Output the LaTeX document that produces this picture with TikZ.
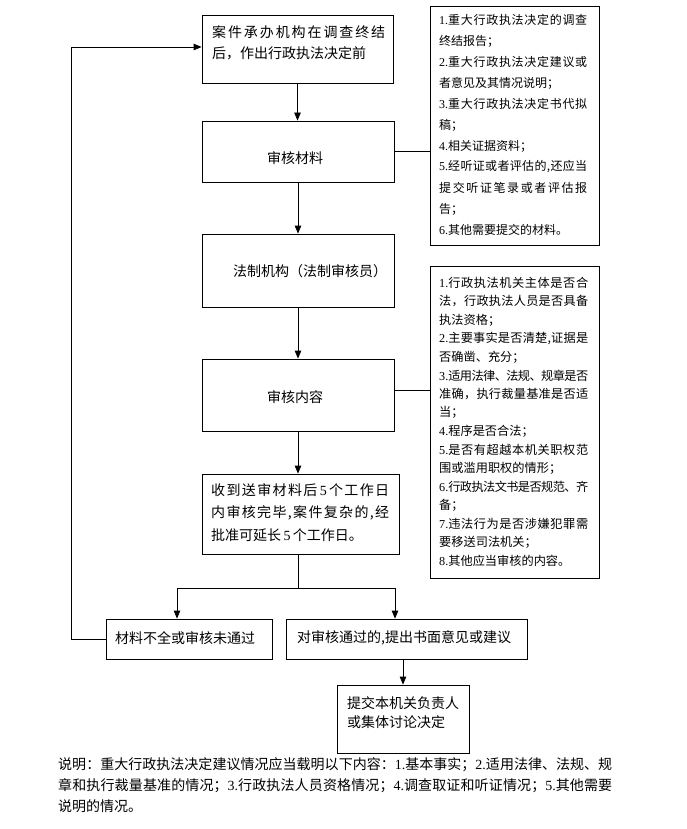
\documentclass[tikz,border=0pt]{standalone}
\usepackage{fontspec}
\setmainfont{Noto Sans CJK SC}
\newfontfamily\latinf{Liberation Serif}
\usetikzlibrary{arrows.meta}
\XeTeXinterchartokenstate=1
\newXeTeXintercharclass\cjkclass
\newcount\cjkcnt
\newcommand\setcjkrange[2]{%
  \cjkcnt=#1\relax
  \loop
    \XeTeXcharclass\cjkcnt=\cjkclass
    \ifnum\cjkcnt<#2\relax
    \advance\cjkcnt by 1
  \repeat}
\setcjkrange{"3000}{"303F}
\setcjkrange{"4E00}{"9FFF}
\setcjkrange{"FF00}{"FFEF}
\XeTeXinterchartoks\cjkclass\cjkclass={\hskip 0pt plus 1pt minus 0.6pt\relax}
\XeTeXinterchartoks 0 \cjkclass={\hskip 0pt plus 1pt minus 0.3pt\relax}
\XeTeXinterchartoks\cjkclass 0={\hskip 0pt plus 1pt minus 0.3pt\relax}
\newcommand\dg[1]{{\latinf #1}}
\newcommand\J[2][148pt]{\makebox[#1][s]{#2}}
\begin{document}
\begin{tikzpicture}[x=1pt,y=-1pt,
  box/.style={draw, line width=0.8pt, inner sep=0pt},
  ln/.style={line width=0.8pt},
  arr/.style={line width=0.8pt, -{Triangle[length=8pt,width=6.5pt]}},
  txt/.style={inner sep=0pt, anchor=west, font=\fontsize{14}{16}\selectfont},
  txts/.style={inner sep=0pt, anchor=west, font=\fontsize{12}{14}\selectfont},
  txtm/.style={inner sep=0pt, anchor=west, font=\fontsize{12.2}{14}\selectfont}]
\fill[white] (0,0) rectangle (686,829);
\useasboundingbox (0,0) rectangle (686,829);

% main boxes
\node[box, minimum width=191pt, minimum height=68pt] (A) at (297.5,49) {};
\node[box, minimum width=192pt, minimum height=61pt] (B) at (298,151.5) {};
\node[box, minimum width=192pt, minimum height=73pt] (C) at (298,270.5) {};
\node[box, minimum width=192pt, minimum height=72pt] (D) at (298,395) {};
\node[box, minimum width=197pt, minimum height=80pt] (E) at (300.5,514) {};
\node[box, minimum width=166pt, minimum height=40pt] (F) at (189,639) {};
\node[box, minimum width=241pt, minimum height=40pt] (G) at (406.5,639) {};
\node[box, minimum width=132pt, minimum height=68pt] (H) at (403,719) {};
\node[box, minimum width=169pt, minimum height=239pt] (R1) at (514.5,125.5) {};
\node[box, minimum width=169pt, minimum height=312pt] (R2) at (514.5,422) {};

% texts of main boxes
\node[txt] (tA1) at (212,32) {\J[173pt]{案件承办机构在调查终结}};
\node[txt] (tA2) at (212,53) {后，作出行政执法决定前};
\node[txt, anchor=center] (tB) at (295,158) {审核材料};
\node[txt] (tC) at (233,271) {法制机构（法制审核员）};
\node[txt, anchor=center] (tD) at (295,397) {审核内容};
\node[txt] (tE1) at (211,490) {\J[178pt]{收到送审材料后\,\dg{5}\,个工作日}};
\node[txt] (tE2) at (211,512.5) {\J[178pt]{内审核完毕,案件复杂的,经}};
\node[txt] (tE3) at (211,535) {批准可延长\,\dg{5}\,个工作日。};
\node[txt] (tF) at (115,638) {材料不全或审核未通过};
\node[txt] (tG) at (297,638) {对审核通过的,提出书面意见或建议};
\node[txt] (tH1) at (347,703) {提交本机关负责人};
\node[txt] (tH2) at (347,722) {或集体讨论决定};

% right box 1
\foreach \t [count=\i] in {
  {\J{\dg{1.}重大行政执法决定的调查}},
  {终结报告；},
  {\J{\dg{2.}重大行政执法决定建议或}},
  {者意见及其情况说明；},
  {\J{\dg{3.}重大行政执法决定书代拟}},
  {稿；},
  {\dg{4.}相关证据资料；},
  {\J{\dg{5.}经听证或者评估的,还应当}},
  {\J{提交听证笔录或者评估报}},
  {告；},
  {\dg{6.}其他需要提交的材料。}}
  \node[txts] (ra\i) at (439,{20+21*(\i-1)}) {\t};

% right box 2
\foreach \t [count=\i] in {
  {\J[149pt]{\dg{1.}行政执法机关主体是否合}},
  {\J[149pt]{法，行政执法人员是否具备}},
  {执法资格；},
  {\J[149pt]{\dg{2.}主要事实是否清楚,证据是}},
  {否确凿、充分；},
  {\J[149pt]{\dg{3.}适用法律、法规、规章是否}},
  {\J[149pt]{准确，执行裁量基准是否适}},
  {当；},
  {\dg{4.}程序是否合法；},
  {\J[149pt]{\dg{5.}是否有超越本机关职权范}},
  {围或滥用职权的情形；},
  {\J[149pt]{\dg{6.}行政执法文书是否规范、齐}},
  {备；},
  {\J[149pt]{\dg{7.}违法行为是否涉嫌犯罪需}},
  {要移送司法机关；},
  {\dg{8.}其他应当审核的内容。}}
  \node[txtm] (rb\i) at (439,{283+18.5*(\i-1)}) {\t};

% caption
\node[txt] (cap1) at (58,765) {\J[554pt]{说明：重大行政执法决定建议情况应当载明以下内容：\dg{1.}基本事实；\dg{2.}适用法律、法规、规}};
\node[txt] (cap2) at (58,785.5) {\J[554pt]{章和执行裁量基准的情况；\dg{3.}行政执法人员资格情况；\dg{4.}调查取证和听证情况；\dg{5.}其他需要}};
\node[txt] (cap3) at (58,806) {说明的情况。};

% connectors
\draw[arr] (A.south) -- (A.south |- B.north);
\draw[arr] (B.south) -- (B.south |- C.north);
\draw[arr] (C.south) -- (C.south |- D.north);
\draw[arr] (D.south) -- (D.south |- E.north);
\draw[ln] (B.east) -- (B.east -| R1.west);
\draw[ln] ([yshift=5pt]D.east) -- ([yshift=5pt]D.east -| R2.west);

\coordinate (sp) at (298,588);
\coordinate (fl) at (177,588);
\coordinate (gl) at (395,588);
\draw[ln] (sp |- E.south) -- (sp);
\draw[ln] (fl) -- (gl);
\draw[arr] (fl) -- (fl |- F.north);
\draw[arr] (gl) -- (gl |- G.north);
\draw[arr] (H.north |- G.south) -- (H.north);

\coordinate (fb) at (71,639);
\draw[arr] (F.west) -- (fb) |- ([yshift=2pt]A.west);
\end{tikzpicture}
\end{document}
